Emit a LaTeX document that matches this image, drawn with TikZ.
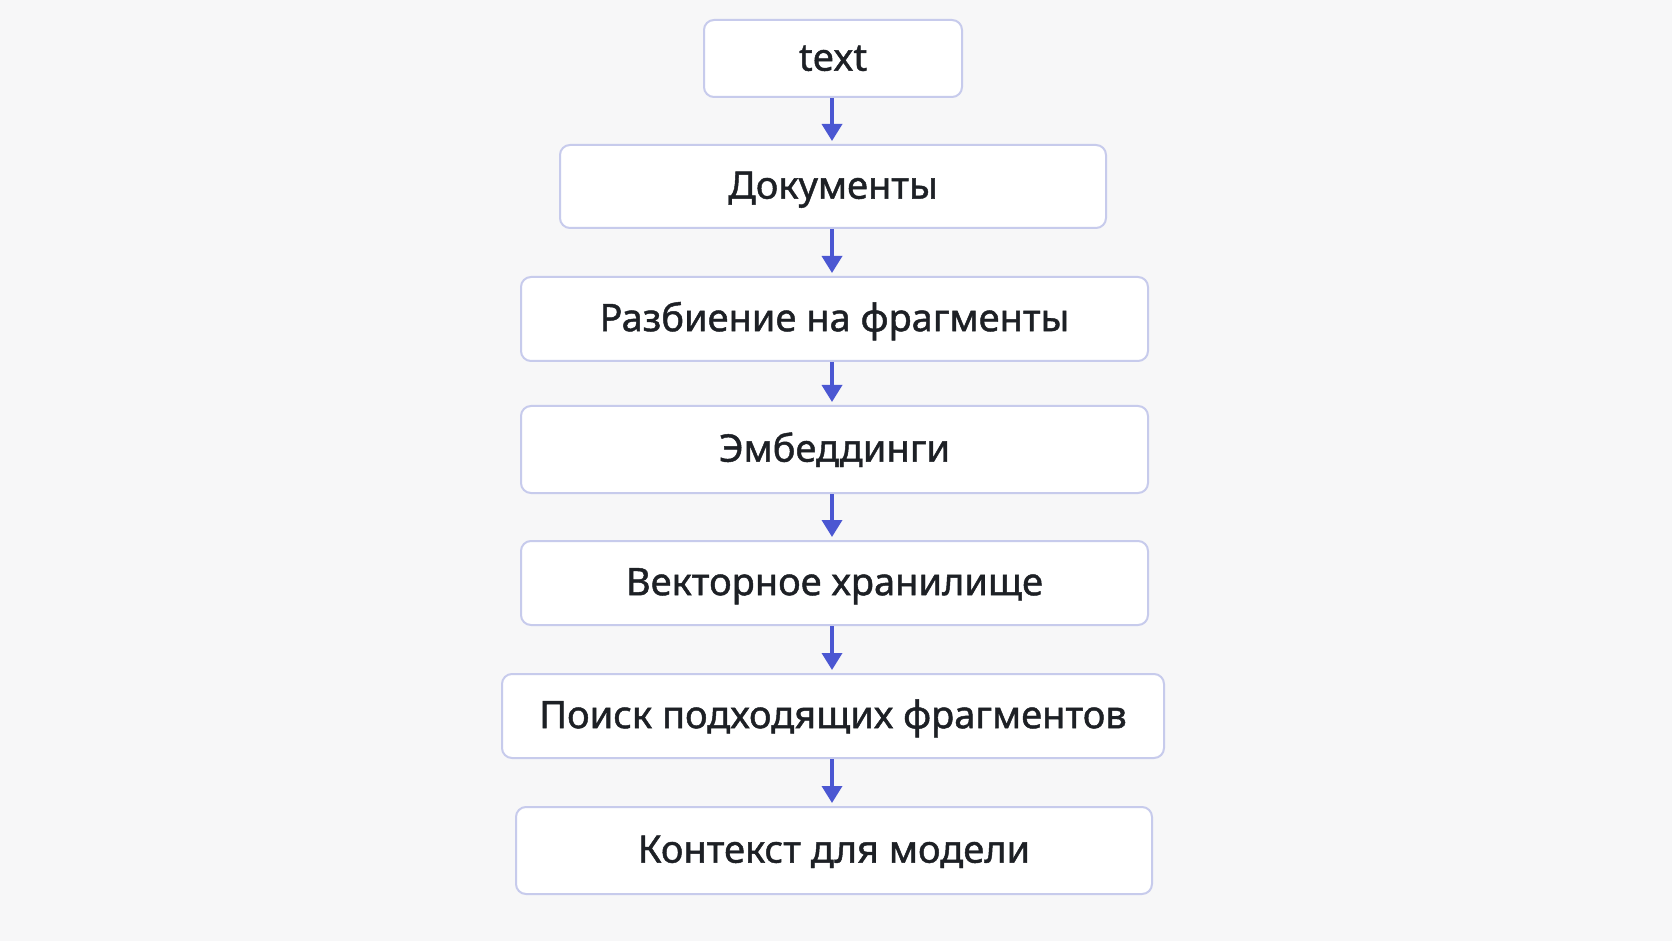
\documentclass[tikz,border=0pt]{standalone}
\usepackage{fontspec}
\setmainfont[FakeBold=1.2]{Noto Sans}
\usetikzlibrary{arrows.meta}
\definecolor{bg}{HTML}{F7F7F8}
\definecolor{boxline}{HTML}{C7CBEC}
\definecolor{arrowc}{HTML}{4B57D2}
\definecolor{txt}{HTML}{1D2025}
\tikzset{
  stagebox/.style={draw=boxline, line width=1pt, fill=white, rounded corners=5pt,
    text=txt, font=\fontsize{19}{22}\selectfont, inner sep=0pt, anchor=north west,
    text height=15pt, text depth=2.8pt},
  flowarrow/.style={draw=arrowc, line width=1.75pt, -{Triangle[width=10pt,length=8.5pt]}, shorten >=1.5pt}
}
\begin{document}
\begin{tikzpicture}[x=0.5pt,y=-0.5pt]
\fill[bg] (0,0) rectangle (1672,941);
\useasboundingbox (0,0) rectangle (1672,941);
\node[stagebox, minimum width=129pt, minimum height=38.5pt] (n1) at (703,19) {text};
\node[stagebox, minimum width=273pt, minimum height=41.5pt] (n2) at (559,144) {Документы};
\node[stagebox, minimum width=313.5pt, minimum height=42pt] (n3) at (520,276) {Разбиение на фрагменты};
\node[stagebox, minimum width=313.5pt, minimum height=43.5pt] (n4) at (520,405) {Эмбеддинги};
\node[stagebox, minimum width=313.5pt, minimum height=42pt] (n5) at (520,540) {Векторное хранилище};
\node[stagebox, minimum width=331pt, minimum height=42pt] (n6) at (501,673) {Поиск подходящих фрагментов};
\node[stagebox, minimum width=318pt, minimum height=43.5pt] (n7) at (515,806) {Контекст для модели};
\coordinate (ax) at (832,0);
\foreach \a/\b in {n1/n2,n2/n3,n3/n4,n4/n5,n5/n6,n6/n7}
  \draw[flowarrow] (\a.south -| ax) -- (\b.north -| ax);
\end{tikzpicture}
\end{document}
